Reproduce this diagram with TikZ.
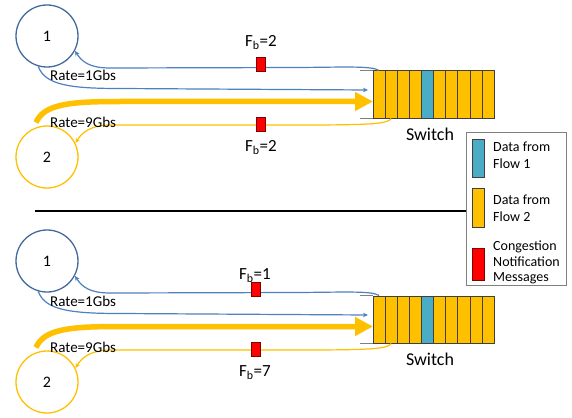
\documentclass[tikz,border=0pt]{standalone}
\usepackage{fontspec}
\setmainfont{Carlito}
\usetikzlibrary{arrows.meta}
\definecolor{hostblue}{HTML}{41699E}
\definecolor{lineblue}{HTML}{4F81BD}
\definecolor{flowyellow}{HTML}{FFC000}
\definecolor{cellblue}{HTML}{4BACC6}
\definecolor{cellborder}{HTML}{3F3F3F}
\definecolor{cnmred}{HTML}{FF0000}
\definecolor{cnmborder}{HTML}{7F0000}
\definecolor{stubgray}{HTML}{808080}
\tikzset{
  hostA/.style={circle,draw=hostblue,line width=1.3pt,minimum size=62pt,inner sep=0pt,font=\fontsize{16}{18}\selectfont},
  hostB/.style={circle,draw=flowyellow,line width=1.3pt,minimum size=62pt,inner sep=0pt,font=\fontsize{16}{18}\selectfont},
  qcell/.style={rectangle,draw=cellborder,line width=1pt,minimum width=12.13pt,minimum height=47pt,inner sep=0pt},
  cnm/.style={rectangle,draw=cnmborder,fill=cnmred,line width=0.8pt,minimum width=9pt,minimum height=14pt,inner sep=0pt},
  thinB/.style={draw=lineblue,line width=1.2pt,-{Stealth[length=5pt,width=4.5pt]}},
  thinY/.style={draw=flowyellow,line width=1.2pt,-{Stealth[length=5pt,width=4.5pt]}},
  thickY/.style={draw=flowyellow,line width=5.5pt,-{Triangle[length=18pt,width=18pt]}},
  stub/.style={draw=stubgray,line width=1.4pt},
  fblabel/.style={anchor=base,inner sep=0pt,font=\fontsize{17}{19}\selectfont},
  ratelabel/.style={anchor=base west,inner sep=0pt,font=\fontsize{15}{17}\selectfont},
  switchlabel/.style={anchor=base,inner sep=0pt,font=\fontsize{18}{20}\selectfont},
  legtext/.style={anchor=base west,inner sep=0pt,font=\fontsize{14}{16}\selectfont},
  legswatch/.style={draw=cellborder,line width=1pt}
}
% #1 prefix, #2 yshift, #3 top value, #4 bottom value, #5 box x, #6 top label baseline, #7 label x
\newcommand{\flowsection}[7]{%
\begin{scope}[yshift=-#2pt]
  \node[hostA] (#1h1) at (47,36) {1};
  \node[hostB] (#1h2) at (47,157) {2};
  \foreach \i in {1,2,3,4,6,7,8,9,10} {
    \node[qcell,fill=flowyellow] (#1c\i) at ({373+12.13*(\i-0.5)},94.5) {};
  }
  \node[qcell,fill=cellblue] (#1c5) at ({373+12.13*4.5},94.5) {};
  \draw[stub] (#1c1.north west) -- ++(-13,0);
  \draw[stub] (#1c1.south west) -- ++(-13,0);
  \coordinate (#1inB) at (368,90);
  \coordinate (#1inY) at (373,101.5);
  \coordinate (#1ystart) at (36,122.5);
  % feedback to host 1
  \draw[thinB] (#1c1.north) .. controls (372,66) and (350,67) .. (300,67.5) -- (110,68) .. controls (90,68) and (82,62) .. (#1h1.-28);
  % data from host 1
  \draw[thinB] (#1h1.-106) .. controls (45,85) and (70,88.5) .. (120,88.5) -- (#1inB);
  % data from host 2
  \draw[thickY] (#1ystart) .. controls (44,104) and (70,101.5) .. (120,101.5) -- (#1inY);
  % feedback to host 2
  \draw[thinY] (#1c2.south) .. controls (388,124) and (370,125) .. (300,125) -- (110,125) .. controls (92,125) and (82,132) .. (#1h2.26);
  \node[cnm] (#1m1) at (#5,64.2) {};
  \node[cnm] (#1m2) at (#5,124.2) {};
  \node[fblabel] (#1f1) at (#7,#6) {F\textsubscript{b}=#3};
  \node[fblabel] (#1f2) at (#7,151.7) {F\textsubscript{b}=#4};
  \node[ratelabel] (#1r1) at (50,81) {Rate=1Gbs};
  \node[ratelabel] (#1r2) at (50,127.3) {Rate=9Gbs};
  \node[switchlabel] (#1sw) at (430,140) {Switch};
\end{scope}}
\begin{document}
\begin{tikzpicture}[x=1pt,y=-1pt]
  \useasboundingbox[fill=white] (0,0) rectangle (572,417);
  \flowsection{t}{0}{2}{2}{260.5}{46.7}{261}
  \flowsection{b}{225}{1}{7}{256.2}{54.5}{255}
  % separator
  \coordinate (sepstart) at (35,211);
  \node[draw=stubgray,line width=1.3pt,fill=white,minimum width=100pt,minimum height=152.5pt,inner sep=0pt,anchor=north west] (legend) at (466,132) {};
  \draw[line width=2pt] (sepstart) -- (sepstart -| legend.west);
  \draw[legswatch,fill=cellblue] (472.3,139) rectangle (484.7,177.7);
  \draw[legswatch,fill=flowyellow] (472.3,188) rectangle (484.7,227);
  \draw[legswatch,draw=cnmborder,fill=cnmred] (472.3,248) rectangle (484.7,280);
  \node[legtext] (l1a) at (493,151.7) {Data from};
  \node[legtext] (l1b) at (493,168.3) {Flow 1};
  \node[legtext] (l2a) at (493,204.5) {Data from};
  \node[legtext] (l2b) at (493,221.7) {Flow 2};
  \node[legtext] (l3a) at (493,250.7) {Congestion};
  \node[legtext] (l3b) at (493,266.7) {Notification};
  \node[legtext] (l3c) at (493,281.7) {Messages};
\end{tikzpicture}
\end{document}
